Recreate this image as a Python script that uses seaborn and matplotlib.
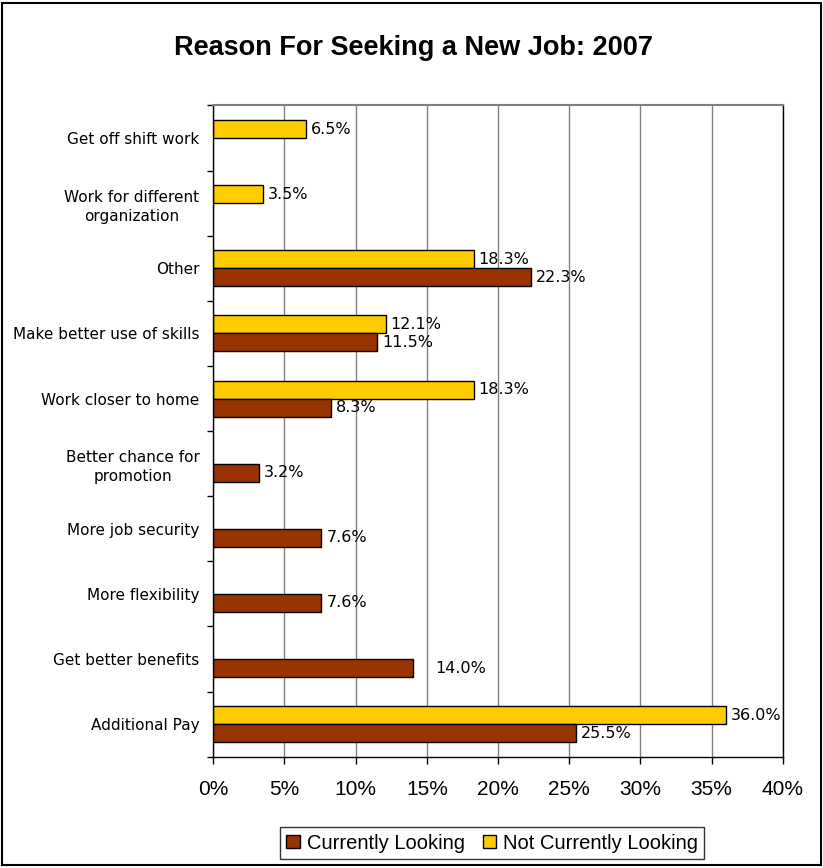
import numpy as np
import pandas as pd
import matplotlib
matplotlib.use("Agg")
import matplotlib.pyplot as plt
from matplotlib.patches import Patch, Rectangle
from matplotlib.ticker import FixedLocator, FuncFormatter
import seaborn as sns

# Reasons, listed top to bottom
reasons = [
    "Get off shift work",
    "Work for different\norganization",
    "Other",
    "Make better use of skills",
    "Work closer to home",
    "Better chance for\npromotion",
    "More job security",
    "More flexibility",
    "Get better benefits",
    "Additional Pay",
]
# Percent of respondents (NaN = not reported)
not_currently_looking = [6.5, 3.5, 18.3, 12.1, 18.3, np.nan, np.nan, np.nan, np.nan, 36.0]
currently_looking = [np.nan, np.nan, 22.3, 11.5, 8.3, 3.2, 7.6, 7.6, 14.0, 25.5]

groups = ["Currently Looking", "Not Currently Looking"]
colors = {"Currently Looking": "#993300", "Not Currently Looking": "#FFCC00"}
x_ticks = [0, 5, 10, 15, 20, 25, 30, 35, 40]

df = pd.concat([
    pd.DataFrame({"reason": reasons, "group": "Not Currently Looking", "value": not_currently_looking}),
    pd.DataFrame({"reason": reasons, "group": "Currently Looking", "value": currently_looking}),
], ignore_index=True)

sns.set_theme(style="white")
plt.rcParams["font.family"] = ["Liberation Sans", "DejaVu Sans"]
plt.rcParams["text.color"] = "black"
plt.rcParams["xtick.color"] = "black"
plt.rcParams["ytick.color"] = "black"
plt.rcParams["xtick.labelcolor"] = "black"
plt.rcParams["ytick.labelcolor"] = "black"

fig = plt.figure(figsize=(8.23, 8.68), dpi=100)
ax = fig.add_axes([0.2592, 0.1282, 0.9510 - 0.2592, 0.8785 - 0.1282])

sns.barplot(
    data=df, y="reason", x="value", hue="group",
    order=reasons, hue_order=["Not Currently Looking", "Currently Looking"],
    palette=colors, saturation=1, orient="h", width=0.553,
    edgecolor="black", linewidth=1, legend=False, ax=ax,
)

ax.set_xlim(0, 40)
ax.set_ylim(len(reasons) - 0.5, -0.5)
ax.set_xlabel("")
ax.set_ylabel("")

# x axis
ax.xaxis.set_major_locator(FixedLocator(x_ticks))
ax.xaxis.set_major_formatter(FuncFormatter(lambda v, p: f"{v:.0f}%"))
ax.tick_params(axis="x", which="major", direction="out", length=5, width=1,
               color="black", pad=12, labelsize=15, labelcolor="black", bottom=True)
for lab in ax.get_xticklabels():
    lab.set_fontfamily("Liberation Sans")

# y axis: labels at centres, tick marks at category boundaries
ax.set_yticks(range(len(reasons)))
ax.set_yticklabels(reasons, fontfamily="DejaVu Sans", fontsize=11, color="black",
                   ha="right", multialignment="center", linespacing=1.35)
ax.yaxis.set_minor_locator(FixedLocator(np.arange(-0.5, len(reasons), 1.0)))
ax.tick_params(axis="y", which="major", length=0, pad=10)
ax.tick_params(axis="y", which="minor", direction="out", length=4.5, width=1,
               color="black", left=True)

# grid and frame
ax.set_axisbelow(True)
ax.xaxis.grid(True, color="#808080", linewidth=1)
ax.yaxis.grid(False)
for side in ("left", "bottom", "right"):
    ax.spines[side].set_color("black")
    ax.spines[side].set_linewidth(1)
ax.spines["top"].set_color("#808080")
ax.spines["top"].set_linewidth(1.5)

# value labels from each bar's own length
label_nudge = {"Get better benefits": 13}
for container in ax.containers:
    for bar in container:
        w = bar.get_width()
        if not np.isfinite(w) or w == 0:
            continue
        yc = bar.get_y() + bar.get_height() / 2
        cat = reasons[int(round(yc))]
        pad = 3.5 + label_nudge.get(cat, 0)
        ax.annotate(f"{w:.1f}%", xy=(w, yc), xytext=(pad, 0),
                    textcoords="offset points", ha="left", va="center",
                    fontsize=11.5, fontfamily="DejaVu Sans", color="black")

# title
fig.text(0.5024, 0.9366, "Reason For Seeking a New Job: 2007",
         ha="center", va="baseline", fontsize=19.5, fontweight="bold",
         fontfamily="Liberation Sans", color="black")

# legend
handles = [Patch(facecolor=colors[g], edgecolor="black", linewidth=1) for g in groups]
leg = fig.legend(handles, groups, loc="center", bbox_to_anchor=(0.598, 0.0288),
                 ncol=2, frameon=True, fancybox=False, edgecolor="black",
                 prop={"family": "Liberation Sans", "size": 14.5},
                 handlelength=0.65, handleheight=0.65, handletextpad=0.35,
                 columnspacing=0.9, borderpad=0.3, borderaxespad=0)
leg.get_frame().set_linewidth(1)
for t in leg.get_texts():
    t.set_color("black")

# outer chart border
fig.patches.append(Rectangle((0.003, 0.003), 0.994, 0.994, transform=fig.transFigure,
                             fill=False, edgecolor="black", linewidth=1.5))

fig.savefig("out.png", dpi=100)
